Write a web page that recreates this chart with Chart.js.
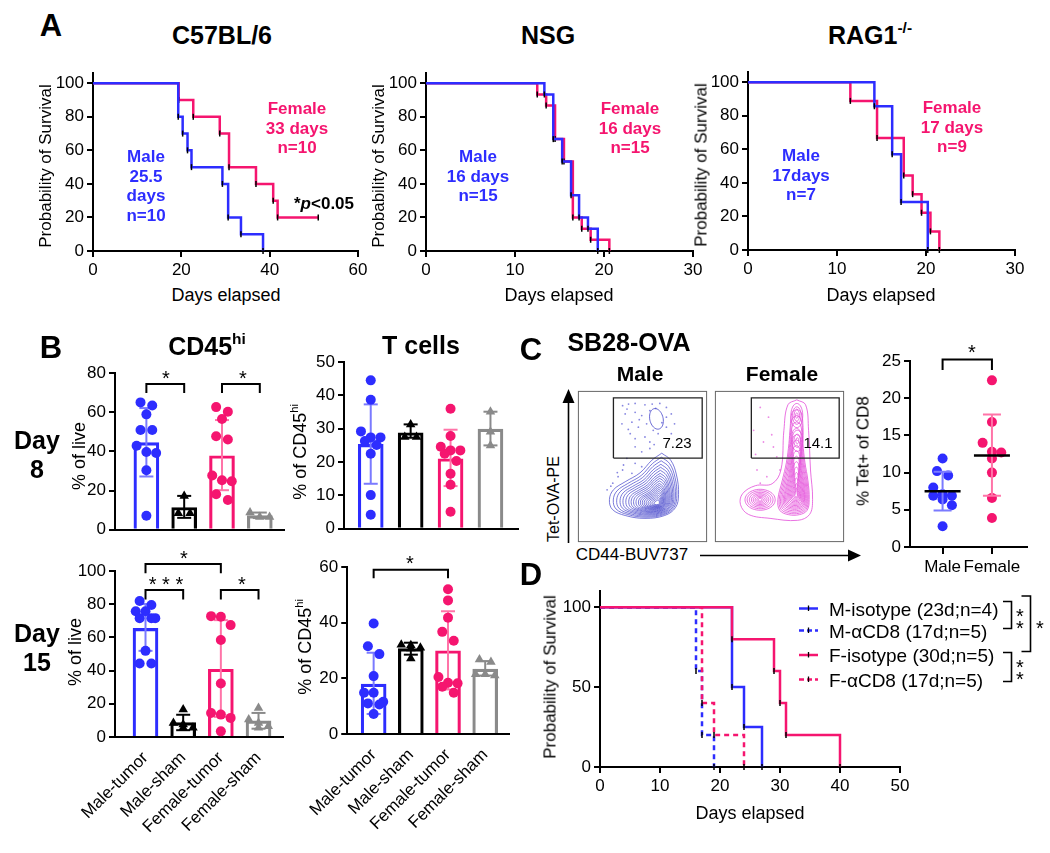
<!DOCTYPE html>
<html><head><meta charset="utf-8">
<script src="https://cdn.jsdelivr.net/npm/chart.js@4.4.1/dist/chart.umd.min.js"></script>
<style>
html,body{margin:0;padding:0;background:#fff;}
body{width:1050px;height:853px;position:relative;overflow:hidden;font-family:'Liberation Sans',Arial,sans-serif;}
.t{position:absolute;white-space:nowrap;line-height:1;text-align:center;color:#000;}
.t sup{font-size:0.62em;vertical-align:0.7em;line-height:0;}
canvas{position:absolute;}
</style></head><body>
<svg width="1050" height="853" style="position:absolute;left:0;top:0;z-index:5" xmlns="http://www.w3.org/2000/svg">
<line x1="568.5" y1="543" x2="568.5" y2="401" stroke="#000" stroke-width="1.6"/>
<polygon points="562.5,403 574.5,403 568.5,389" fill="#000"/>
<line x1="700" y1="555.5" x2="849" y2="555.5" stroke="#000" stroke-width="1.6"/>
<polygon points="848,549.5 848,561.5 861,555.5" fill="#000"/>
<path d="M1003,601.5 H1011.5 V628.5 H1003" fill="none" stroke="#000" stroke-width="1.6"/>
<path d="M1003,652.5 H1011.5 V681.5 H1003" fill="none" stroke="#000" stroke-width="1.6"/>
<path d="M1021.5,596 H1030.5 V651.5 H1021.5" fill="none" stroke="#000" stroke-width="1.6"/>
<line x1="799" y1="608.5" x2="818" y2="608.5" stroke="#2d2dff" stroke-width="2.5"/>
<line x1="799" y1="630.5" x2="818" y2="630.5" stroke="#2d2dff" stroke-width="2.5" stroke-dasharray="5,3"/>
<line x1="799" y1="655" x2="818" y2="655" stroke="#f5156f" stroke-width="2.5"/>
<line x1="799" y1="679.5" x2="818" y2="679.5" stroke="#f5156f" stroke-width="2.5" stroke-dasharray="5,3"/>
<line x1="808.5" y1="605.5" x2="808.5" y2="611" stroke="#000" stroke-width="1.3"/>
<line x1="808.5" y1="627.5" x2="808.5" y2="633" stroke="#000" stroke-width="1.3"/>
<line x1="808.5" y1="652" x2="808.5" y2="657.5" stroke="#000" stroke-width="1.3"/>
<line x1="808.5" y1="676.5" x2="808.5" y2="682" stroke="#000" stroke-width="1.3"/>
</svg>
<script>
// ======================= DATA =======================
// Panel A - Kaplan-Meier (days, % survival)
const c57MaleDays = [0, 19.3, 20.3, 21.4, 22.3, 29.3, 30.6, 33.5, 38.5];
const c57MaleSurv = [100, 80, 70, 60, 50, 40, 20, 10, 0];
const c57FemDays  = [0, 19.4, 22.7, 28.7, 30.8, 36.9, 40.8, 41.8, 51];
const c57FemSurv  = [100, 90, 80, 70, 50, 40, 30, 20, 20];
const nsgMaleDays = [0, 13.3, 14.3, 15.3, 16.3, 17.2, 18.2, 19.3];
const nsgMaleSurv = [100, 93.3, 66.7, 53.3, 33.3, 20, 13.3, 0];
const nsgFemDays  = [0, 12.5, 13.5, 14.5, 15.5, 16.5, 17.5, 18.5, 20.6];
const nsgFemSurv  = [100, 93.3, 86.7, 66.7, 53.3, 20, 13.3, 6.7, 0];
const ragMaleDays = [0, 14.2, 16.2, 17.2, 20.2];
const ragMaleSurv = [100, 85.7, 57.1, 28.6, 0];
const ragFemDays  = [0, 11.5, 14.5, 17.5, 18.5, 19.5, 20.5, 21.5];
const ragFemSurv  = [100, 88.9, 66.7, 44.4, 33.3, 22.2, 11.1, 0];

// Panel B
const groupLabels = ['Male-tumor', 'Male-sham', 'Female-tumor', 'Female-sham'];
// Day 8, CD45hi (% of live)
const d8LiveMean = [44.5, 11.4, 37.8, 7.2];
const d8LiveLo   = [27.2, 6.1, 20.2, 6.0];
const d8LiveHi   = [62.1, 17.3, 56.0, 8.8];
const d8LiveMT = [65, 63.4, 58.9, 50.9, 50.9, 42.9, 39.7, 39.2, 30.4, 7.2];
const d8LiveMS = [17.3, 8.5, 8.5];
const d8LiveFT = [62.6, 60.2, 56.5, 47.7, 46.1, 27.7, 25.3, 24.8, 18.1, 15.2];
const d8LiveFS = [8.8, 6.5, 6.5];
const d8LiveBrackets = [{a:0, b:1, y:74.4, lo:69.8}, {a:2, b:3, y:74.4, lo:69.8}];
// Day 8, T cells (% of CD45hi)
const d8TMean = [25.3, 28.8, 21.0, 29.9];
const d8TLo   = [13.5, 27.3, 12.8, 25.0];
const d8THi   = [37.3, 31.3, 29.7, 35.1];
const d8TMT = [44.5, 38.7, 29.2, 27.4, 27.4, 26.3, 25.1, 22.5, 10.1, 4.2];
const d8TMS = [31.3, 27.5, 27.5];
const d8TFT = [36.0, 27.8, 24.6, 23.5, 23.5, 22.5, 20.3, 16.5, 13.2, 5.1];
const d8TFS = [35.1, 29.1, 25.0];
// Day 15, CD45hi (% of live)
const d15LiveMean = [65.4, 8.7, 40.8, 9.7];
const d15LiveLo   = [51.9, 4.1, 12.1, 5.0];
const d15LiveHi   = [80.1, 13.4, 70.4, 14.5];
const d15LiveMT = [81.9, 79.5, 75.8, 75.8, 71.6, 71.6, 71.6, 51.9, 44.3, 44.3];
const d15LiveMS = [16.5, 8.5, 7.5, 5.5, 5.5];
const d15LiveFT = [72.8, 72.4, 67.4, 58.4, 32.2, 14.5, 13.5, 11.5, 3.4];
const d15LiveFS = [17.5, 10.5, 8.5, 6.5, 5.5];
const d15LiveBrackets = [{a:0, b:1, y:88.5, lo:82.9}, {a:2, b:3, y:88.5, lo:82.9}, {a:0, b:2, y:104.2, lo:98.6}];
// Day 15, T cells (% of CD45hi)
const d15TMean = [17.9, 30.7, 29.9, 23.3];
const d15TLo   = [7.2, 28.5, 16.0, 21.0];
const d15THi   = [29.2, 32.8, 44.1, 26.2];
const d15TMT = [39.7, 31.5, 28.7, 20.8, 14.8, 14.8, 11.6, 11.0, 10.6, 7.2];
const d15TMS = [32.1, 31.9, 31.0, 30.7, 27.1];
const d15TFT = [52.0, 48.0, 41.8, 36.7, 33.5, 20.5, 18.4, 18.2, 17.0, 14.8];
const d15TFS = [26.8, 25.9, 21.5, 21.5, 21.0];
const d15TBrackets = [{a:0, b:2, y:59, lo:56}];

// Panel C - % Tet+ of CD8
const tetLabels = ['Male', 'Female'];
const tetMale   = [11.9, 10.2, 9.6, 8.0, 7.1, 6.9, 6.9, 6.4, 5.6, 2.8];
const tetFemale = [22.4, 16.8, 14.0, 12.8, 12.7, 11.9, 10.0, 6.6, 3.9];
const tetMean = [7.5, 12.3];
const tetLo   = [4.9, 6.9];
const tetHi   = [10.1, 17.8];
const tetBrackets = [{a:0, b:1, y:25.2, lo:23.8}];

// Panel C - flow plots (arbitrary units 0-100)
const maleGate = [[27.5,55.6],[96.2,55.6],[96.2,95.4],[27.5,95.4]];
const femaleGate = [[28.2,55.6],[96.2,55.6],[96.2,95.4],[28.2,95.4]];
const maleOuter = [[64.9,58.8],[71.8,54.2],[76.3,44.4],[77.9,31.4],[75.6,22.9],[67.2,17.6],[51.9,15.7],[36.6,17.6],[26.7,21.6],[24.4,28.1],[27.5,34.6],[36.6,39.9],[48.1,45.8],[57.3,54.2]];
const maleCore = [61.8, 25.5];
const maleLevels = [1,.92,.85,.78,.72,.66,.6,.55,.5,.45,.4,.36,.32,.28,.24,.2,.16,.12,.08];
const maleGatePeak = {cx:60.8, cy:81.5, rx:5.1, ry:7.0, rot:20};
const maleEvents = [[34.6,90.2],[39.2,91.3],[44.3,91.7],[51.9,90.8],[57.5,91.3],[63.4,91.7],[68.5,89.1],[36.6,84.8],[44.3,85.8],[49.4,83.7],[55.7,86.9],[68.5,82.6],[72.3,84.8],[34.1,78.2],[41.8,79.3],[46.8,76.0],[53.2,78.2],[58.3,73.9],[68.5,76.0],[40.5,71.7],[44.3,68.4],[51.9,69.5],[55.7,66.2],[62.1,71.7],[44.3,63.0],[49.4,59.7],[55.7,61.9],[37.9,55.4],[44.3,52.1],[34.6,47.7],[31.1,43.3],[27.0,39.0],[22.6,34.6],[41.8,45.5],[35.3,51.0],[49.4,49.9],[72.3,71.7],[74.8,78.2],[38.0,88.0],[60.2,88.5],[47.5,81.0],[65.0,79.0],[39.0,74.5],[59.0,64.5],[30.5,46.0],[25.5,37.0]];
const femaleOuter = [[63.4,94.1],[70.2,90.8],[72.5,73.9],[74,47.7],[75.6,28.1],[73.3,18.3],[64.1,14.4],[42.7,15.7],[26,18.3],[19.8,24.8],[21.4,32],[31.3,37.3],[44.3,38.6],[51.1,47.7],[53.4,73.9],[56.5,90.8]];
const femaleColumn = [[63.4,91],[67,88.5],[68.5,78],[68.5,67],[70,54],[72.5,41],[73.5,28],[71.8,20.5],[65.6,17.5],[56.5,17.5],[49.5,20.5],[48,28],[51.5,41],[55,54],[57,67],[58,78],[59.5,88.5]];
const femaleCore = [63.0, 31.0];
const femaleLevels = [.95,.88,.81,.74,.67,.61,.55,.49,.43,.37,.31,.25,.19,.13,.08];
const femaleLobe = {cx:35, cy:28, rx:13, ry:7.7, rot:0};
const femaleLobeLevels = [.9,.77,.64,.52,.41,.3,.2,.11];
const femaleTopPeak = {cx:63.4, cy:83.7, rx:4.6, ry:8, rot:0};
const femaleTopLevels = [1,.72,.46,.22];
const femaleMidPeak = {cx:63.8, cy:67, rx:4.2, ry:7, rot:0};
const femaleMidLevels = [1,.62,.28];
const femaleEvents = [[35.1,89.1],[41.5,82.6],[30.0,73.9],[37.6,66.2],[45.3,62.9],[32.6,47.7],[40.2,43.3],[35.1,39.0],[47.9,56.4],[50.4,47.7],[31.5,58.0],[44.0,71.0]];

// Panel D - Kaplan-Meier
const mIsoDays = [0, 22, 24, 27];       const mIsoSurv = [100, 50, 25, 0];
const mCd8Days = [0, 16, 17, 19];       const mCd8Surv = [100, 60, 20, 0];
const fIsoDays = [0, 22, 29, 30, 31, 40]; const fIsoSurv = [100, 80, 60, 40, 20, 0];
const fCd8Days = [0, 17, 19, 24];       const fCd8Surv = [100, 40, 20, 0];

// ======================= STYLE / HELPERS =======================
const BLUE='#2d2dff', PINK='#f5156f', BLUE_L='#7a7aff', PINK_L='#ff74a8', GRAY='#8a8a8a';
Chart.defaults.font.family = "'Liberation Sans', Arial, sans-serif";
Chart.defaults.font.size = 17;
Chart.defaults.color = '#000';

function baseOpts(scales, extraPlugins){
  return {responsive:false, maintainAspectRatio:false, animation:false, events:[],
    scales, plugins:Object.assign({legend:{display:false}, tooltip:{enabled:false}}, extraPlugins||{})};
}
function makeChart(L,T,R,B,p,config){
  const c=document.createElement('canvas');
  const left=Math.round(L-p.yW-p.pl), top=Math.round(T-p.pt);
  const w=Math.round(R-L+p.yW+p.pl+p.pr), h=Math.round(B-T+p.pt+p.xH+p.pb);
  c.style.left=left+'px'; c.style.top=top+'px'; c.style.width=w+'px'; c.style.height=h+'px';
  c.width=w; c.height=h;
  document.body.appendChild(c);
  config.options.layout={padding:{left:p.pl,top:p.pt,right:p.pr,bottom:p.pb}};
  if(config.options.scales.x && config.options.scales.x.display!==false) config.options.scales.x.afterFit=s=>{s.height=p.xH;};
  if(config.options.scales.y && config.options.scales.y.display!==false) config.options.scales.y.afterFit=s=>{s.width=p.yW;};
  return new Chart(c, config);
}
function numAxis(pos,min,max,step){
  return {type:'linear', position:pos, min, max, offset:false,
    border:{display:true,color:'#000',width:2},
    grid:{display:true,drawOnChartArea:false,drawTicks:true,tickLength:6,color:'#000',lineWidth:2,offset:false},
    ticks:{stepSize:step,includeBounds:false,padding:3,color:'#000',font:{size:17},maxRotation:0,minRotation:0,autoSkip:false}};
}
function catAxis(min,max,labels,mode){
  // mode: 'none' (no labels), 'rot' (45 deg labels), 'flat' (ticks + labels)
  return {type:'linear', position:'bottom', min, max, offset:false,
    afterBuildTicks:s=>{ s.ticks=labels.map((_,i)=>({value:i})); },
    border:{display:true,color:'#000',width:2},
    grid:{display:mode==='flat',drawOnChartArea:false,drawTicks:true,tickLength:7,color:'#000',lineWidth:2,offset:false},
    ticks:{display:mode!=='none',autoSkip:false,padding:mode==='rot'?4:3,color:'#000',font:{size:17},
      minRotation:mode==='rot'?45:0,maxRotation:mode==='rot'?45:0,callback:v=>labels[v]}};
}
function km(days,surv,color,dash){
  return {type:'line', data:days.map((d,i)=>({x:d,y:surv[i]})), stepped:'before',
    borderColor:color, borderWidth:2.5, borderDash:dash||[], fill:false, clip:false,
    pointStyle:'line', pointRotation:90, pointRadius:c=>c.dataIndex===0?0:3, pointHoverRadius:0,
    pointBorderColor:'#000', pointBackgroundColor:'#000', pointBorderWidth:1.5};
}
function swarm(vals,pxY,pxX){
  const dot=10, thr=dot/pxY;
  const order=vals.map((v,i)=>i).sort((a,b)=>vals[b]-vals[a]);
  const off=new Array(vals.length).fill(0);
  let g=[];
  const flush=()=>{const n=g.length, sp=n===2?1.2:1; g.forEach((k,j)=>{off[k]=(j-(n-1)/2)*sp*dot/pxX;}); g=[];};
  order.forEach(k=>{ if(g.length && (vals[k]<vals[g[0]]-thr || g.length>=3)) flush(); g.push(k); });
  flush();
  return off;
}
function bracketSet(b){
  return {type:'line', data:[{x:b.a,y:b.lo},{x:b.a,y:b.y},{x:b.b,y:b.y},{x:b.b,y:b.lo}],
    borderColor:'#000', borderWidth:2, pointRadius:0, pointHoverRadius:0, clip:false, fill:false};
}
function barPanel(g, xr, ymax, ystep, mean, lo, hi, groups, brackets, mode){
  const colors=[BLUE,'#000',PINK,GRAY], eb=[BLUE_L,'#000',PINK_L,GRAY], shapes=['circle','triangle','circle','triangle'];
  const pxX=(g.R-g.L)/(xr[1]-xr[0]), pxY=(g.B-g.T)/ymax;
  const ds=[];
  groups.forEach((vals,i)=>{ const off=swarm(vals,pxY,pxX);
    ds.push({type:'scatter', data:vals.map((v,k)=>({x:i+off[k],y:v})), pointStyle:shapes[i],
      pointRadius:shapes[i]==='circle'?5:5.5, pointHoverRadius:5, pointBackgroundColor:colors[i], pointBorderColor:colors[i], pointBorderWidth:0, clip:false}); });
  mean.forEach((m,i)=>ds.push({type:'line', data:[{x:i,y:lo[i]},{x:i,y:hi[i]}], borderColor:eb[i], borderWidth:2,
    pointStyle:'line', pointRadius:7, pointHoverRadius:7, pointBorderColor:eb[i], pointBorderWidth:2, clip:false}));
  brackets.forEach(b=>ds.push(bracketSet(b)));
  ds.push({type:'bar', data:mean.map((m,i)=>({x:i,y:m})), backgroundColor:'rgba(255,255,255,0)', borderColor:colors, borderWidth:2.5, barThickness:25});
  const x=catAxis(xr[0],xr[1],groupLabels,mode);
  const y=numAxis('left',0,ymax,ystep);
  return makeChart(g.L,g.T,g.R,g.B,{yW:40,pl:2,pt:g.pt,pr:5,xH:mode==='rot'?100:4,pb:0},
    {type:'bar', data:{datasets:ds}, options:baseOpts({x,y})});
}
function T(html,cx,cy,size,o){
  o=o||{};
  const d=document.createElement('div'); d.className='t'; d.innerHTML=html;
  d.style.left=cx+'px'; d.style.top=cy+'px'; d.style.fontSize=size+'px';
  if(o.b) d.style.fontWeight='bold';
  if(o.c) d.style.color=o.c;
  if(o.lh) d.style.lineHeight=o.lh+'px';
  d.style.transform='translate(-50%,-50%)'+(o.r?' rotate(-90deg)':'');
  document.body.appendChild(d); return d;
}
function TL(html,x,cy,size){
  const d=document.createElement('div'); d.className='t'; d.innerHTML=html;
  d.style.left=x+'px'; d.style.top=cy+'px'; d.style.fontSize=size+'px'; d.style.textAlign='left';
  d.style.transform='translateY(-50%)'; document.body.appendChild(d);
}
function S(text,cx,cy){ T(text,cx,cy+4.5,20); }

// ======================= PANEL A =======================
const pA={yW:50,pl:0,pt:12,pr:22,xH:30,pb:0};
makeChart(93,72,358,251,pA,{type:'line', data:{datasets:[km(c57MaleDays,c57MaleSurv,BLUE), km(c57FemDays,c57FemSurv,PINK)]},
  options:baseOpts({x:numAxis('bottom',0,60,20), y:numAxis('left',0,106,20)})});
makeChart(426,72,693,251,pA,{type:'line', data:{datasets:[km(nsgMaleDays,nsgMaleSurv,BLUE), km(nsgFemDays,nsgFemSurv,PINK)]},
  options:baseOpts({x:numAxis('bottom',0,30,10), y:numAxis('left',0,106,20)})});
makeChart(748,71,1015,250,pA,{type:'line', data:{datasets:[km(ragMaleDays,ragMaleSurv,BLUE), km(ragFemDays,ragFemSurv,PINK)]},
  options:baseOpts({x:numAxis('bottom',0,30,10), y:numAxis('left',0,106,20)})});

T('A',51,25,31,{b:1});
T('C57BL/6',222,35,25,{b:1});
T('NSG',548,35,25,{b:1});
T('RAG1<sup>-/-</sup>',870,35,25,{b:1});
T('Female<br>33 days<br>n=10',297,128,17,{b:1,c:PINK,lh:19.5});
T('Male<br>25.5<br>days<br>n=10',146,186,17,{b:1,c:BLUE,lh:19.5});
T('*<i>p</i>&lt;0.05',324,203,17,{b:1});
T('Female<br>16 days<br>n=15',630,128,17,{b:1,c:PINK,lh:19.5});
T('Male<br>16 days<br>n=15',478,176,17,{b:1,c:BLUE,lh:19.5});
T('Female<br>17 days<br>n=9',952,127,17,{b:1,c:PINK,lh:19.5});
T('Male<br>17days<br>n=7',801,175,17,{b:1,c:BLUE,lh:19.5});
T('Probability of Survival',45,166,17,{r:1});
T('Probability of Survival',378,166,17,{r:1});
T('Probability of Survival',701,165,17,{r:1});
T('Days elapsed',226,295,18); T('Days elapsed',559,295,18); T('Days elapsed',881,295,18);

// ======================= PANEL B =======================
barPanel({L:115,T:373,R:288,B:539,pt:30},[-0.83,3.64],80,20,d8LiveMean,d8LiveLo,d8LiveHi,[d8LiveMT,d8LiveMS,d8LiveFT,d8LiveFS],d8LiveBrackets,'none');
barPanel({L:344,T:362,R:522,B:538,pt:20},[-0.67,3.69],50,10,d8TMean,d8TLo,d8THi,[d8TMT,d8TMS,d8TFT,d8TFS],[],'none');
barPanel({L:115,T:571,R:287,B:737,pt:30},[-0.81,3.65],100,20,d15LiveMean,d15LiveLo,d15LiveHi,[d15LiveMT,d15LiveMS,d15LiveFT,d15LiveFS],d15LiveBrackets,'rot');
barPanel({L:344,T:567,R:513,B:734,pt:25},[-0.71,3.64],60,20,d15TMean,d15TLo,d15THi,[d15TMT,d15TMS,d15TFT,d15TFS],d15TBrackets,'rot');

T('B',51,347,31,{b:1});
T('CD45<sup>hi</sup>',207,346,25,{b:1});
T('T cells',421,345,25,{b:1});
T('Day<br>8',37,455,25,{b:1,lh:29});
T('Day<br>15',37,648,25,{b:1,lh:29});
T('% of live',79,456,18,{r:1});
T('% of CD45<sup>hi</sup>',300,452,18,{r:1});
T('% of live',75,652,18,{r:1});
T('% of CD45<sup>hi</sup>',305,647,18,{r:1});
S('*',166,373); S('*',243,373);
S('*',184,553); S('* * *',166,579); S('*',242,579);
S('*',410,558);

// ======================= PANEL C =======================
(function(){
  const L=910,Tp=361,R=1035,Bp=547, xr=[-0.66,1.70], ymax=25;
  const pxX=(R-L)/(xr[1]-xr[0]), pxY=(Bp-Tp)/ymax;
  const ebc=[BLUE_L,PINK_L], dc=[BLUE,PINK];
  const ds=[];
  tetMean.forEach((m,i)=>ds.push({type:'scatter', data:[{x:i,y:m}], pointStyle:'line', pointRadius:18, pointHoverRadius:18, pointBorderColor:'#000', pointBorderWidth:2.5}));
  tetMean.forEach((m,i)=>ds.push({type:'line', data:[{x:i,y:tetLo[i]},{x:i,y:tetHi[i]}], borderColor:ebc[i], borderWidth:2,
    pointStyle:'line', pointRadius:9, pointHoverRadius:9, pointBorderColor:ebc[i], pointBorderWidth:2}));
  [tetMale,tetFemale].forEach((vals,i)=>{ const off=swarm(vals,pxY,pxX);
    ds.push({type:'scatter', data:vals.map((v,k)=>({x:i+off[k],y:v})), pointStyle:'circle', pointRadius:5, pointHoverRadius:5,
      pointBackgroundColor:dc[i], pointBorderColor:dc[i], pointBorderWidth:0}); });
  tetBrackets.forEach(b=>ds.push(bracketSet(b)));
  makeChart(L,Tp,R,Bp,{yW:40,pl:2,pt:30,pr:12,xH:34,pb:0},{type:'scatter', data:{datasets:ds},
    options:baseOpts({x:catAxis(xr[0],xr[1],tetLabels,'flat'), y:numAxis('left',0,ymax,5)})});
})();

// flow plots
const frame={id:'frame', afterDraw(ch){const a=ch.chartArea,c=ch.ctx; c.save(); c.strokeStyle='#666'; c.lineWidth=1; c.strokeRect(a.left+0.5,a.top+0.5,a.width-1,a.height-1); c.restore();}};
function closed(pts){const a=pts.map(p=>({x:p[0],y:p[1]})); a.push({x:pts[0][0],y:pts[0][1]}); return a;}
function scalePoly(pts,c,s){return pts.map(p=>[c[0]+(p[0]-c[0])*s, c[1]+(p[1]-c[1])*s]);}
function ellPts(e,s){const out=[], r=e.rot*Math.PI/180; for(let k=0;k<24;k++){const t=k/24*2*Math.PI, x=e.rx*s*Math.cos(t), y=e.ry*s*Math.sin(t); out.push([e.cx+x*Math.cos(r)-y*Math.sin(r), e.cy+x*Math.sin(r)+y*Math.cos(r)]);} return out;}
function contour(pts,col,w){return {type:'line', data:closed(pts), borderColor:col, borderWidth:w||0.9, pointRadius:0, pointHoverRadius:0, tension:0.38, fill:false};}
function flowChart(left,top,w,h,datasets){
  const c=document.createElement('canvas');
  c.style.left=left+'px'; c.style.top=top+'px'; c.style.width=w+'px'; c.style.height=h+'px'; c.width=w; c.height=h;
  document.body.appendChild(c);
  const ax=()=>({type:'linear',min:0,max:100,display:false});
  const o=baseOpts({x:ax(),y:ax()}); o.layout={padding:0};
  return new Chart(c,{type:'scatter', data:{datasets}, options:o, plugins:[frame]});
}
(function(){
  const col='rgba(80,80,205,0.85)', dots='rgba(95,95,215,0.75)';
  const ds=[{type:'line', data:closed(maleGate), borderColor:'#222', borderWidth:1.3, pointRadius:0, pointHoverRadius:0, tension:0}];
  maleLevels.forEach(s=>ds.push(contour(scalePoly(maleOuter,maleCore,s),col)));
  ds.push(contour(ellPts(maleGatePeak,1),col,1));
  ds.push({type:'scatter', data:maleEvents.map(p=>({x:p[0],y:p[1]})), pointRadius:0.9, pointHoverRadius:0.9, pointBackgroundColor:dots, pointBorderWidth:0});
  flowChart(577,390,131,153,ds);
})();
(function(){
  const col='rgba(228,80,218,0.9)', dots='rgba(230,100,220,0.75)';
  const ds=[{type:'line', data:closed(femaleGate), borderColor:'#222', borderWidth:1.3, pointRadius:0, pointHoverRadius:0, tension:0}];
  ds.push(contour(femaleOuter,col));
  femaleLevels.forEach(s=>ds.push(contour(scalePoly(femaleColumn,femaleCore,s),col)));
  femaleLobeLevels.forEach(s=>ds.push(contour(ellPts(femaleLobe,s),col)));
  femaleTopLevels.forEach(s=>ds.push(contour(ellPts(femaleTopPeak,s),col)));
  femaleMidLevels.forEach(s=>ds.push(contour(ellPts(femaleMidPeak,s),col)));
  ds.push({type:'scatter', data:femaleEvents.map(p=>({x:p[0],y:p[1]})), pointRadius:0.9, pointHoverRadius:0.9, pointBackgroundColor:dots, pointBorderWidth:0});
  flowChart(714,390,131,153,ds);
})();

T('C',531,349,31,{b:1});
T('SB28-OVA',629,342,25,{b:1});
T('Male',640,373,21,{b:1});
T('Female',782,373,21,{b:1});
T('7.23',677,442,15); T('14.1',818,442,15);
T('Tet-OVA-PE',554,499,16,{r:1});
T('CD44-BUV737',632,554,17);
T('% Tet+ of CD8',863,451,17,{r:1});
S('*',972,347);

// ======================= PANEL D =======================
makeChart(600,590,900,767,{yW:50,pl:0,pt:12,pr:22,xH:30,pb:0},{type:'line',
  data:{datasets:[km(fCd8Days,fCd8Surv,PINK,[5,4]), km(mCd8Days,mCd8Surv,BLUE,[5,4]), km(fIsoDays,fIsoSurv,PINK), km(mIsoDays,mIsoSurv,BLUE)]},
  options:baseOpts({x:numAxis('bottom',0,50,10), y:numAxis('left',0,110,50)})});
T('D',531,574,31,{b:1});
T('Probability of Survival',550,677,17,{r:1});
T('Days elapsed',750,813,18);
TL('M-isotype (23d;n=4)',829,608.5,19);
TL('M-αCD8 (17d;n=5)',829,630.5,19);
TL('F-isotype (30d;n=5)',829,655,19);
TL('F-αCD8 (17d;n=5)',829,679.5,19);
S('*',1020,611); S('*',1020,623);
S('*',1020,662); S('*',1020,674);
S('*',1040,623);
</script>
</body></html>
